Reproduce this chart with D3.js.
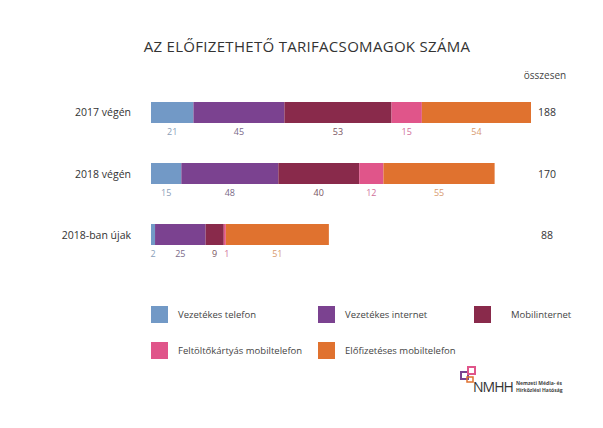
<!DOCTYPE html>
<html>
<head>
<meta charset="utf-8">
<title>Tarifacsomagok</title>
<script src="https://d3js.org/d3.v7.min.js"></script>
<style>
  body { margin: 0; background: #fff; }
  text { font-family: "Open Sans", "DejaVu Sans", sans-serif; }
</style>
</head>
<body>
<svg id="chart" width="603" height="428"></svg>
<script>
var categories = ["2017 végén", "2018 végén", "2018-ban újak"]
var seriesNames = ["Vezetékes telefon", "Vezetékes internet", "Mobilinternet", "Feltöltőkártyás mobiltelefon", "Előfizetéses mobiltelefon"]
var vezetekesTelefon = [21, 15, 2]
var vezetekesInternet = [45, 48, 25]
var mobilinternet = [53, 40, 9]
var feltoltokartyas = [15, 12, 1]
var elofizeteses = [54, 55, 51]
var totals = [188, 170, 88]

var colors = ["#7299c6", "#7b4290", "#892a4b", "#e0558a", "#e0722f"]
var labelColors = ["#8aa0b8", "#7a6a88", "#7a5562", "#d0709a", "#d89a70"]

var svg = d3.select("#chart")
var values = [vezetekesTelefon, vezetekesInternet, mobilinternet, feltoltokartyas, elofizeteses]

var x = d3.scaleLinear().domain([0, 188]).range([151, 531])
var y = d3.scaleBand().domain(categories).range([83.7, 263.3]).paddingInner(0.656).paddingOuter(0.3)

svg.append("text").attr("x", 307).attr("y", 52).attr("text-anchor", "middle")
  .attr("font-size", 15).attr("fill", "#333").attr("letter-spacing", 0.3)
  .text("AZ ELŐFIZETHETŐ TARIFACSOMAGOK SZÁMA")

svg.append("text").attr("x", 545).attr("y", 79).attr("text-anchor", "middle")
  .attr("font-size", 10).attr("fill", "#444").text("összesen")

categories.forEach(function(c, i) {
  var yy = y(c), h = y.bandwidth()
  svg.append("text").attr("x", 131).attr("y", yy + h / 2 + 4).attr("text-anchor", "end")
    .attr("font-size", 10.5).attr("fill", "#333").text(c)
  svg.append("text").attr("x", 547).attr("y", yy + h / 2 + 4).attr("text-anchor", "middle")
    .attr("font-size", 10.5).attr("fill", "#333").text(totals[i])
  var acc = 0
  values.forEach(function(s, k) {
    var v = s[i]
    svg.append("rect").attr("x", x(acc)).attr("y", yy)
      .attr("width", x(acc + v) - x(acc)).attr("height", h).attr("fill", colors[k])
    svg.append("text").attr("x", (x(acc) + x(acc + v)) / 2 + (i == 2 && k == 3 ? 2 : 0))
      .attr("y", yy + h + 12).attr("text-anchor", "middle")
      .attr("font-size", 9).attr("fill", labelColors[k]).text(v)
    acc += v
  })
})

// legend
var legendPos = [[151, 306], [318, 306], [474, 306], [151, 342], [318, 342]]
seriesNames.forEach(function(n, k) {
  var p = legendPos[k]
  svg.append("rect").attr("x", p[0]).attr("y", p[1]).attr("width", 17).attr("height", 17).attr("fill", colors[k])
  svg.append("text").attr("x", p[0] + (k == 2 ? 37 : 27)).attr("y", p[1] + 12)
    .attr("font-size", 9.5).attr("fill", "#444").text(n)
})

// logo
var logo = svg.append("g").attr("transform", "translate(461,367)")
logo.append("rect").attr("x", 0).attr("y", 5).attr("width", 7).attr("height", 7).attr("fill", "none").attr("stroke", "#7b4290").attr("stroke-width", 2)
logo.append("rect").attr("x", 7).attr("y", 0).attr("width", 7).attr("height", 7).attr("fill", "none").attr("stroke", "#e0558a").attr("stroke-width", 2)
logo.append("rect").attr("x", 6).attr("y", 10).attr("width", 6).attr("height", 5).attr("fill", "none").attr("stroke", "#e0722f").attr("stroke-width", 1.5)
logo.append("text").attr("x", 12).attr("y", 25).attr("font-size", 14).attr("fill", "#333").attr("letter-spacing", -1).text("NMHH")
logo.append("text").attr("x", 55).attr("y", 18).attr("font-size", 5).attr("font-weight", "bold").attr("fill", "#444").text("Nemzeti Média- és")
logo.append("text").attr("x", 55).attr("y", 25).attr("font-size", 5).attr("font-weight", "bold").attr("fill", "#444").text("Hírközlési Hatóság")
</script>
</body>
</html>
